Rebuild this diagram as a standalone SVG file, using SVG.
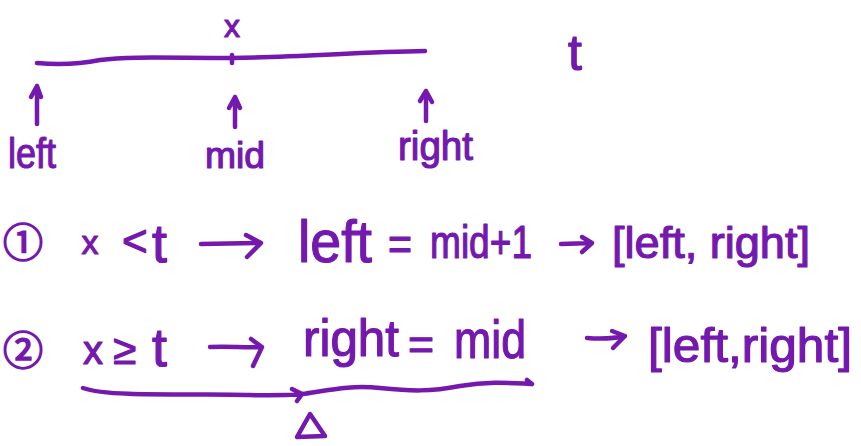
<svg xmlns="http://www.w3.org/2000/svg" width="861" height="446" viewBox="0 0 861 446">
<style>
.ink{fill:none;stroke:#7418ae;stroke-width:4.5;stroke-linecap:round;stroke-linejoin:round}
.tx{fill:#7418ae;stroke:#7418ae;stroke-width:1.2;stroke-linejoin:round;font-family:"Liberation Sans","DejaVu Sans",sans-serif}
.cj{fill:#7418ae;stroke:#7418ae;stroke-width:1.6;font-family:"Noto Sans CJK SC","DejaVu Sans",sans-serif}
</style>
<rect width="861" height="446" fill="#ffffff"/>
<g id="number-line">
<path class="ink" d="M37,63 C60,65 80,64 100,60 C130,56 170,58 232,58 C300,57 360,52 425,51"/>
<path class="ink" d="M232,55 L232,63"/>
<text class="tx" x="232" y="37" font-size="32" text-anchor="middle">x</text>
<text class="tx" x="575" y="70" font-size="50" text-anchor="middle">t</text>
</g>
<g id="connectors">
<path class="ink" d="M37,124 L37,86 M31,97 L37,86 L41,97"/>
<path class="ink" d="M235,127 L235,97 M229,108 L235,97 L240,108"/>
<path class="ink" d="M426,121 L426,91 M420,101 L426,91 L432,102"/>
<path class="ink" d="M201,244 L259,243 M246,235 L261,243 L247,257"/>
<path class="ink" d="M561,244 L592,243 M582,237 L592,243 L582,252"/>
<path class="ink" d="M210,347 C230,346 245,348 260,347 M251,339 L262,347 L253,366"/>
<path class="ink" d="M587,338 C600,339 612,339 625,336 M612,331 L625,336 L613,348"/>
<path class="ink" d="M83,388 C110,398 200,393 250,395 C275,396 290,395 302,394 M292,389 L302,394 L297,401"/>
<path class="ink" d="M302,394 C330,390 350,385 380,388 C410,391 430,392 460,386 C490,381 510,383 531,384 M527,380 L532,384"/>
</g>
<g id="label-left"><text class="tx" x="8" y="168" font-size="42" textLength="48" lengthAdjust="spacingAndGlyphs">left</text></g>
<g id="label-mid"><text class="tx" x="205" y="168" font-size="36" textLength="60" lengthAdjust="spacingAndGlyphs">mid</text></g>
<g id="label-right"><text class="tx" x="398" y="160" font-size="40" textLength="75" lengthAdjust="spacingAndGlyphs">right</text></g>
<g id="case1">
<text class="cj" x="23" y="257" font-size="40" text-anchor="middle">①</text>
<text class="tx" x="90" y="254" font-size="34" text-anchor="middle">x</text>
<text class="tx" x="122" y="256" font-size="44">&lt;</text>
<text class="tx" x="152" y="262" font-size="54">t</text>
<text class="tx" x="298" y="262" font-size="60" textLength="74" lengthAdjust="spacingAndGlyphs">left</text>
<text class="tx" x="388" y="260" font-size="46" textLength="24" lengthAdjust="spacingAndGlyphs">=</text>
<text class="tx" x="430" y="258" font-size="46" textLength="102" lengthAdjust="spacingAndGlyphs">mid+1</text>
<text class="tx" x="612" y="258" font-size="44" textLength="198" lengthAdjust="spacingAndGlyphs">[left, right]</text>
</g>
<g id="case2">
<text class="cj" x="23" y="365" font-size="40" text-anchor="middle">②</text>
<text class="tx" x="83" y="364" font-size="40">x</text>
<text class="tx" x="113" y="364" font-size="42">≥</text>
<text class="tx" x="152" y="366" font-size="54">t</text>
<text class="tx" x="303" y="356" font-size="52" textLength="96" lengthAdjust="spacingAndGlyphs">right</text>
<text class="tx" x="408" y="360" font-size="44" textLength="26" lengthAdjust="spacingAndGlyphs">=</text>
<text class="tx" x="454" y="358" font-size="54" textLength="72" lengthAdjust="spacingAndGlyphs">mid</text>
<text class="tx" x="648" y="362" font-size="48" textLength="204" lengthAdjust="spacingAndGlyphs">[left,right]</text>
</g>
<g id="marker-triangle">
<path class="ink" d="M310,414 L297,437 L325,436 Z"/>
</g>
</svg>
